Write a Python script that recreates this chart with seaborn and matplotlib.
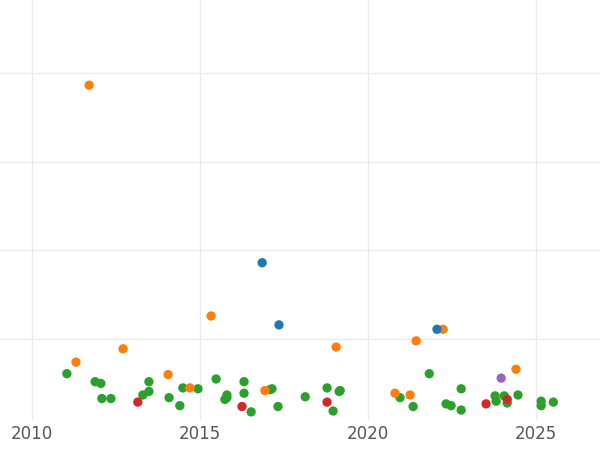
import matplotlib
matplotlib.use("Agg")
import matplotlib.pyplot as plt
import seaborn as sns
import pandas as pd

sns.set_theme(style="whitegrid")
plt.rcParams['font.family'] = ['DejaVu Sans']

orange_x = [2011.70, 2011.31, 2012.71, 2014.05, 2014.70, 2015.33, 2016.93, 2019.05, 2020.80, 2021.25, 2021.43, 2022.23, 2024.40]
orange_y = [38.6, 7.4, 8.9, 6.0, 4.5, 12.6, 4.2, 9.1, 3.9, 3.7, 9.8, 11.1, 6.6]
blue_x = [2016.85, 2017.35, 2022.05]
blue_y = [18.6, 11.6, 11.1]
purple_x = [2023.96]
purple_y = [5.6]
red_x = [2013.15, 2016.25, 2018.78, 2023.51, 2024.14]
red_y = [2.9, 2.4, 2.9, 2.7, 3.2]
green_x = [2011.04, 2011.88, 2012.05, 2012.08, 2012.35, 2013.30, 2013.48, 2013.48, 2014.08, 2014.40,
           2014.49, 2014.94, 2015.48, 2015.74, 2015.80, 2015.80, 2016.31, 2016.31, 2016.52, 2017.08,
           2017.14, 2017.32, 2018.13, 2018.78, 2018.96, 2019.14, 2019.17, 2020.95, 2021.34, 2021.82,
           2022.32, 2022.47, 2022.77, 2022.77, 2023.78, 2023.81, 2024.05, 2024.14, 2024.46, 2025.15,
           2025.15, 2025.51]
green_y = [6.1, 5.2, 5.0, 3.3, 3.3, 3.7, 5.2, 4.1, 3.4, 2.5,
           4.5, 4.4, 5.5, 3.2, 3.7, 3.4, 5.2, 3.9, 1.8, 4.3,
           4.4, 2.4, 3.5, 4.5, 1.9, 4.1, 4.2, 3.4, 2.4, 6.1,
           2.7, 2.5, 4.4, 2.0, 3.6, 3.0, 3.6, 2.8, 3.7, 3.0,
           2.5, 2.9]

groups = [("green", green_x, green_y, "#2ca02c"), ("orange", orange_x, orange_y, "#ff7f0e"),
          ("blue", blue_x, blue_y, "#1f77b4"), ("purple", purple_x, purple_y, "#9467bd"),
          ("red", red_x, red_y, "#d62728")]
rows = []
for name, xs, ys, _ in groups:
    rows += [{"x": a, "y": b, "g": name} for a, b in zip(xs, ys)]
df = pd.DataFrame(rows)
palette = {name: c for name, _, _, c in groups}

fig = plt.figure(figsize=(6, 4.5), dpi=100)
ax = fig.add_axes([0, 0.067, 1, 0.933])
sns.scatterplot(data=df, x="x", y="y", hue="g", palette=palette, s=45, linewidth=0, ax=ax, legend=False)
ax.set_xlim(2009.05, 2026.9)
ax.set_ylim(0.9, 48.2)
ax.set_xticks([2010, 2015, 2020, 2025])
ax.set_yticks([10, 20, 30, 40])
ax.set_yticklabels([])
ax.tick_params(axis='y', length=0)
ax.tick_params(axis='x', labelsize=12, colors="#555555", length=0)
ax.grid(True, color="#ebebeb", linewidth=1)
for s in ax.spines.values():
    s.set_visible(False)
ax.set_xlabel("")
ax.set_ylabel("")
fig.savefig("out.png", dpi=100)
